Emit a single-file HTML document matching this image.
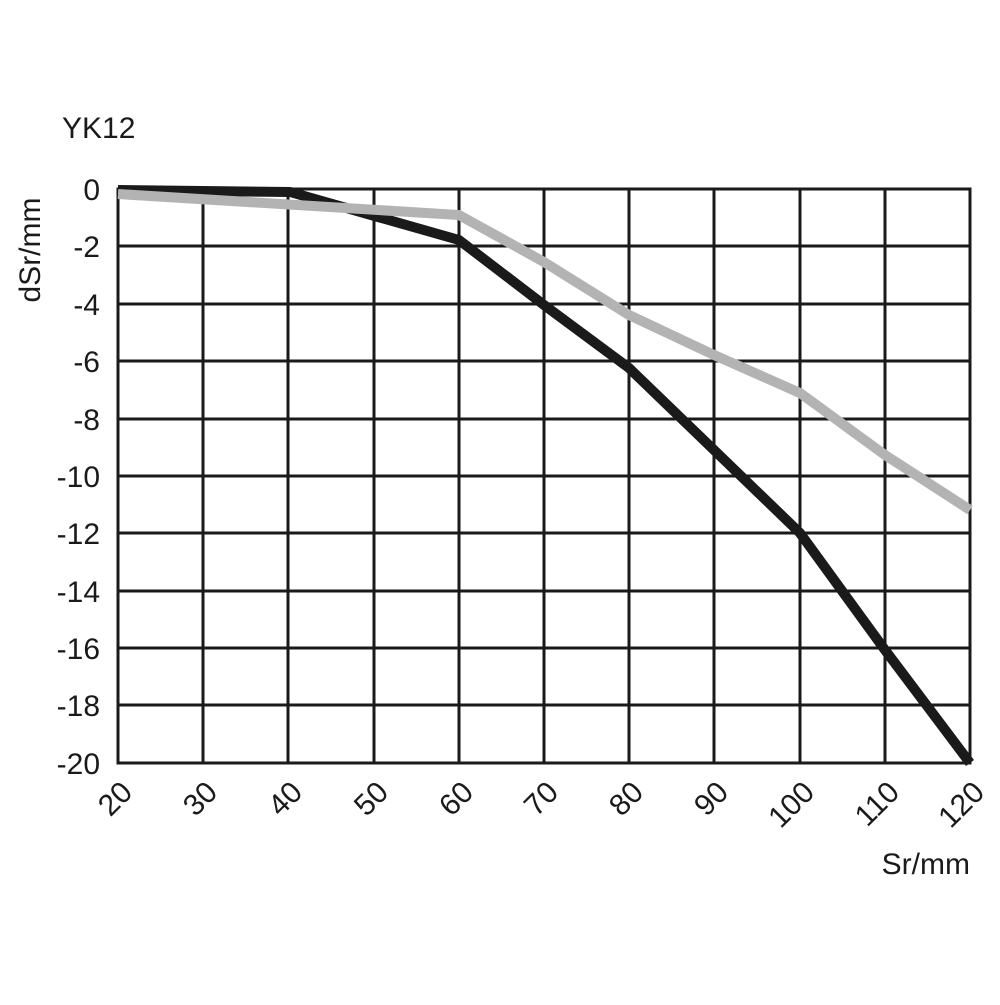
<!DOCTYPE html>
<html><head><style>body{margin:0;background:#fff}</style></head><body>
<svg width="1000" height="1000" xmlns="http://www.w3.org/2000/svg" font-family="Liberation Sans, sans-serif" font-size="30" fill="#1a1a1a">
<rect width="1000" height="1000" fill="#fff"/>
<g stroke="#1a1a1a" stroke-width="3">
<line x1="203" y1="189" x2="203" y2="763"/><line x1="288" y1="189" x2="288" y2="763"/><line x1="374" y1="189" x2="374" y2="763"/><line x1="459" y1="189" x2="459" y2="763"/><line x1="544" y1="189" x2="544" y2="763"/><line x1="629" y1="189" x2="629" y2="763"/><line x1="714" y1="189" x2="714" y2="763"/><line x1="800" y1="189" x2="800" y2="763"/><line x1="885" y1="189" x2="885" y2="763"/>
<line x1="118" y1="246" x2="970" y2="246"/><line x1="118" y1="304" x2="970" y2="304"/><line x1="118" y1="361" x2="970" y2="361"/><line x1="118" y1="419" x2="970" y2="419"/><line x1="118" y1="476" x2="970" y2="476"/><line x1="118" y1="533" x2="970" y2="533"/><line x1="118" y1="591" x2="970" y2="591"/><line x1="118" y1="648" x2="970" y2="648"/><line x1="118" y1="705" x2="970" y2="705"/>
<rect x="118" y="189" width="852" height="574" fill="none"/>
</g>
<polyline points="118,190 290,192 459,240 544,305 629,368 714,450 800,533 885,650 970,763" fill="none" stroke="#1a1a1a" stroke-width="10" stroke-linejoin="miter"/>
<polyline points="118,194 459,215 544,262 629,315 714,355 800,393 885,455 970,510" fill="none" stroke="#b3b3b3" stroke-width="10"/>
<text x="62" y="138">YK12</text>
<g text-anchor="end">
<text x="100" y="200">0</text><text x="100" y="257">-2</text><text x="100" y="315">-4</text><text x="100" y="372">-6</text><text x="100" y="430">-8</text><text x="100" y="487">-10</text><text x="100" y="544">-12</text><text x="100" y="602">-14</text><text x="100" y="659">-16</text><text x="100" y="716">-18</text><text x="100" y="774">-20</text>
</g>
<text transform="translate(40,250) rotate(-90)" text-anchor="middle">dSr/mm</text>
<g text-anchor="end">
<text transform="translate(134,794) rotate(-45)">20</text>
<text transform="translate(219,794) rotate(-45)">30</text>
<text transform="translate(304,794) rotate(-45)">40</text>
<text transform="translate(390,794) rotate(-45)">50</text>
<text transform="translate(475,794) rotate(-45)">60</text>
<text transform="translate(560,794) rotate(-45)">70</text>
<text transform="translate(645,794) rotate(-45)">80</text>
<text transform="translate(730,794) rotate(-45)">90</text>
<text transform="translate(816,794) rotate(-45)">100</text>
<text transform="translate(901,794) rotate(-45)">110</text>
<text transform="translate(986,794) rotate(-45)">120</text>
</g>
<text x="970" y="874" text-anchor="end">Sr/mm</text>
</svg>
</body></html>
